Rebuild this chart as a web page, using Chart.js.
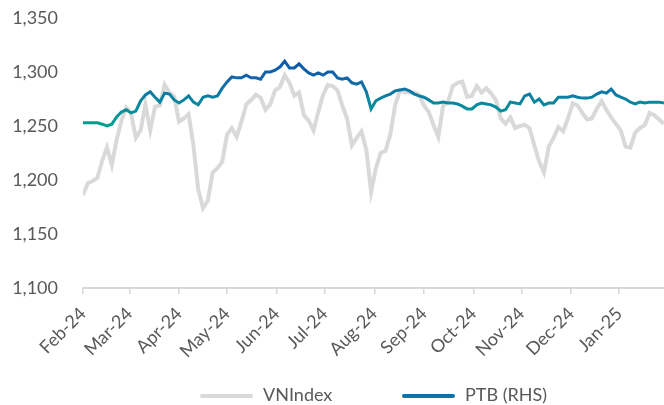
<!DOCTYPE html>
<html>
<head>
    <title>VNIndex vs PTB</title>
    <script src="https://cdn.jsdelivr.net/npm/chart.js"></script>
    <style>
        body { margin: 0; background: #fff; font-family: Lato, sans-serif; }
        #wrap { position: relative; width: 664px; height: 405px; }
        .leg { position: absolute; top: 383px; font-size: 18px; color: #595959; line-height: 22px; }
        .sw { position: absolute; top: 394px; width: 53px; height: 4px; border-radius: 2px; }
    </style>
</head>
<body>
<div id="wrap">
    <canvas id="chart"></canvas>
    <div class="sw" style="left:200px;background:#d9d9d9"></div>
    <div class="leg" style="left:263px">VNIndex</div>
    <div class="sw" style="left:402px;background:linear-gradient(#1267ad,#0b7fa3)"></div>
    <div class="leg" style="left:465px">PTB (RHS)</div>
</div>
<script>
    // one sample every 3 calendar days, starting 1 Feb 2024
    const stepDays = 3;
    const monthLabels = ["Feb-24", "Mar-24", "Apr-24", "May-24", "Jun-24", "Jul-24",
                         "Aug-24", "Sep-24", "Oct-24", "Nov-24", "Dec-24", "Jan-25"];
    const monthDays = [0, 29, 60, 90, 121, 151, 182, 213, 244, 274, 305, 335];

    const vnindex = [
        1186, 1197, 1199, 1202, 1218, 1230, 1214, 1237, 1255, 1267,
        1262, 1239, 1246, 1270, 1246, 1268, 1269, 1288, 1281, 1277,
        1254, 1257, 1261, 1232, 1191, 1174, 1181, 1207, 1211, 1217,
        1242, 1248, 1240, 1254, 1270, 1274, 1279, 1276, 1265, 1270,
        1283, 1286, 1297, 1290, 1278, 1281, 1260, 1255, 1246, 1263,
        1279, 1288, 1287, 1283, 1269, 1257, 1232, 1239, 1245, 1228,
        1189, 1211, 1225, 1227, 1242, 1269, 1283, 1281, 1281, 1281,
        1279, 1269, 1263, 1251, 1240, 1269, 1272, 1287, 1290, 1291,
        1277, 1278, 1287, 1281, 1285, 1280, 1274, 1257, 1252, 1258,
        1248, 1250, 1251, 1248, 1232, 1217, 1207, 1231, 1239, 1249,
        1245, 1257, 1271, 1269, 1262, 1256, 1257, 1266, 1273, 1265,
        1258, 1252, 1246, 1231, 1230, 1244, 1248, 1251, 1262, 1260,
        1256, 1252
    ];

    const ptb = [
        56.7, 56.7, 56.7, 56.7, 56.4, 56.0, 56.4, 58.0, 59.1, 59.6,
        58.9, 59.3, 61.6, 62.9, 63.6, 62.4, 61.3, 63.3, 63.1, 61.8,
        61.1, 61.8, 62.7, 61.3, 60.7, 62.4, 62.7, 62.4, 62.7, 64.4,
        65.8, 66.9, 66.7, 66.7, 67.3, 66.7, 66.7, 66.4, 68.0, 68.0,
        68.4, 69.1, 70.4, 68.9, 68.9, 69.8, 68.7, 67.8, 67.3, 67.8,
        67.3, 68.0, 68.0, 66.7, 66.4, 66.7, 65.6, 65.3, 65.8, 63.6,
        59.8, 61.6, 62.2, 62.7, 63.1, 63.8, 64.0, 64.2, 63.8, 63.1,
        62.7, 62.4, 61.8, 61.1, 61.1, 61.3, 61.1, 61.1, 60.9, 60.4,
        59.8, 59.8, 60.7, 61.1, 60.9, 60.7, 60.2, 59.3, 59.6, 61.3,
        61.1, 60.9, 62.7, 63.1, 61.3, 62.0, 60.7, 61.1, 61.1, 62.4,
        62.4, 62.4, 62.7, 62.4, 62.2, 62.2, 62.4, 63.1, 63.6, 63.3,
        64.2, 62.9, 62.4, 62.0, 61.3, 60.9, 61.3, 61.1, 61.3, 61.3,
        61.3, 61.1
    ];

    const toPoints = arr => arr.map((v, i) => ({ x: i * stepDays, y: v }));

    // PTB line goes from teal (low) to blue (high)
    function ptbColor(context) {
        const chart = context.chart;
        const scale = chart.scales.y1;
        if (!chart.chartArea || !scale) return "#0b7fa3";
        const top = scale.getPixelForValue(71);
        const bottom = scale.getPixelForValue(56);
        const g = chart.ctx.createLinearGradient(0, top, 0, bottom);
        g.addColorStop(0, "#0c55a8");
        g.addColorStop(0.3, "#1266aa");
        g.addColorStop(0.6, "#0b82a0");
        g.addColorStop(0.8, "#07929a");
        g.addColorStop(1, "#00a08a");
        return g;
    }

    Chart.defaults.font.family = "Lato, sans-serif";
    Chart.defaults.font.size = 18;
    Chart.defaults.color = "#595959";

    new Chart(document.getElementById("chart"), {
        type: "line",
        data: {
            datasets: [
                {
                    label: "VNIndex",
                    data: toPoints(vnindex),
                    yAxisID: "y",
                    borderColor: "#d9d9d9",
                    borderWidth: 4,
                    pointRadius: 0,
                    tension: 0,
                    order: 2
                },
                {
                    label: "PTB (RHS)",
                    data: toPoints(ptb),
                    yAxisID: "y1",
                    borderColor: ptbColor,
                    borderWidth: 3,
                    pointRadius: 0,
                    tension: 0,
                    order: 1
                }
            ]
        },
        options: {
            responsive: true,
            maintainAspectRatio: false,
            animation: false,
            layout: { padding: { top: 18, right: 0, bottom: 0, left: 0 } },
            plugins: { legend: { display: false }, tooltip: { enabled: false } },
            scales: {
                x: {
                    type: "linear",
                    min: 0,
                    max: 363,
                    afterBuildTicks: s => { s.ticks = monthDays.map(v => ({ value: v })); },
                    afterFit: s => { s.height = 117; },
                    ticks: {
                        autoSkip: false,
                        minRotation: 45,
                        maxRotation: 45,
                        padding: 9,
                        callback: (v, i) => monthLabels[i]
                    },
                    grid: { drawOnChartArea: false, drawTicks: true, tickLength: 6, color: "#d9d9d9", lineWidth: 1.5 },
                    border: { display: true, color: "#d9d9d9", width: 2 }
                },
                y: {
                    position: "left",
                    min: 1100,
                    max: 1350,
                    // fixed width; drop the extra top/bottom room the tick padding adds
                    afterFit: s => { s.width = 83; s.paddingTop = 0; s.paddingBottom = 0; },
                    ticks: {
                        stepSize: 50,
                        padding: 25,
                        callback: v => v.toLocaleString("en-US")
                    },
                    grid: { display: false, drawTicks: false },
                    border: { display: false }
                },
                y1: {
                    position: "right",
                    display: false,
                    min: 20,
                    max: 80
                }
            }
        }
    });
</script>
</body>
</html>
